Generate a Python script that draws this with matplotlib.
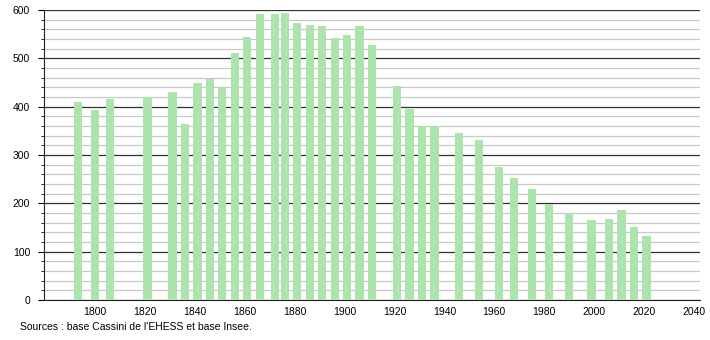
import matplotlib
matplotlib.use("Agg")
import matplotlib.pyplot as plt
from matplotlib.ticker import MultipleLocator

plt.rcParams["font.family"] = ["Liberation Sans", "DejaVu Sans"]

years = [1793, 1800, 1806, 1821, 1831, 1836, 1841, 1846, 1851, 1856,
         1861, 1866, 1872, 1876, 1881, 1886, 1891, 1896, 1901, 1906,
         1911, 1921, 1926, 1931, 1936, 1946, 1954, 1962, 1968, 1975,
         1982, 1990, 1999, 2006, 2011, 2016, 2021]
population = [410, 393, 416, 419, 430, 364, 449, 457, 439, 511,
              544, 592, 592, 593, 573, 569, 567, 542, 548, 567,
              528, 443, 395, 359, 359, 345, 331, 275, 252, 230,
              199, 179, 166, 168, 186, 151, 132]
source = "Sources : base Cassini de l'EHESS et base Insee."

fig = plt.figure(figsize=(7.1, 3.4), dpi=100)
ax = fig.add_axes([0.062, 0.1176, 0.924, 0.853])

ax.bar(years, population, width=3.3, color="#ade3ad", zorder=3)

ax.set_xlim(1779.5, 2042.5)
ax.set_ylim(0, 600)
ax.set_xticks(range(1800, 2041, 20))
ax.yaxis.set_major_locator(MultipleLocator(100))
ax.yaxis.set_minor_locator(MultipleLocator(20))

ax.grid(axis="y", which="major", color="#333333", linewidth=0.9, zorder=1)
ax.grid(axis="y", which="minor", color="#c8c8c8", linewidth=0.9, zorder=1)

for s in ["top", "right"]:
    ax.spines[s].set_visible(False)
ax.spines["left"].set_color("#222222")
ax.spines["bottom"].set_color("#222222")

ax.tick_params(axis="x", length=0, labelsize=7.5, pad=5)
ax.tick_params(axis="y", which="major", length=4, labelsize=7.5, pad=6)
ax.tick_params(axis="y", which="minor", length=2)

fig.text(0.028, 0.038, source, fontsize=7.5, ha="left", va="center")

fig.savefig("out.png", dpi=100)
